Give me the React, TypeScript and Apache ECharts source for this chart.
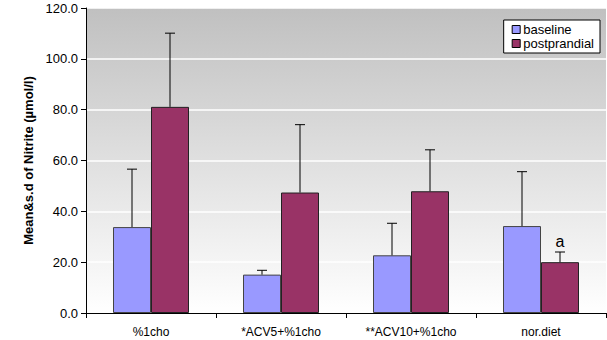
import React, { useEffect, useRef } from "react";
import * as echarts from "echarts";

const categories = ["%1cho", "*ACV5+%1cho", "**ACV10+%1cho", "nor.diet"];
const baseline = [33.8, 15.1, 22.7, 34.2];
const baselineSd = [22.8, 1.7, 12.6, 21.4];
const postprandial = [81.1, 47.4, 47.9, 20.0];
const postprandialSd = [29.0, 26.7, 16.3, 4.0];
const postNotes = ["", "", "", "a"];
const yTicks = [0, 20, 40, 60, 80, 100, 120];

const BAR_W = 38;
const FONT = "Arial, 'Liberation Sans', sans-serif";

function errorSeries(name: string, means: number[], sds: number[], offset: number, notes: string[]) {
  const data = means.map((m, i) => [i, m, m + sds[i], notes[i]]);
  return {
    type: "custom",
    name: name + "-err",
    silent: true,
    z: 5,
    data,
    encode: { x: 0, y: [1, 2] },
    renderItem: (params: any, api: any) => {
      const idx = api.value(0);
      const lo = api.coord([idx, api.value(1)]);
      const hi = api.coord([idx, api.value(2)]);
      const x = lo[0] + offset;
      const children: any[] = [
        { type: "line", shape: { x1: x, y1: lo[1], x2: x, y2: hi[1] }, style: { stroke: "#000", lineWidth: 1 } },
        { type: "line", shape: { x1: x - 5, y1: hi[1], x2: x + 5, y2: hi[1] }, style: { stroke: "#000", lineWidth: 1 } },
      ];
      const note = data[params.dataIndex][3] as string;
      if (note) {
        children.push({
          type: "text",
          style: { text: note, x: x, y: hi[1] - 3, align: "center", verticalAlign: "bottom", fontSize: 16, fontFamily: FONT, fill: "#000" },
        });
      }
      return { type: "group", children };
    },
  };
}

export default function App() {
  const ref = useRef<HTMLDivElement>(null);
  useEffect(() => {
    if (!ref.current) return;
    const chart = echarts.init(ref.current, null, { renderer: "svg" });
    chart.setOption({
      animation: false,
      backgroundColor: "#fff",
      textStyle: { fontFamily: FONT },
      grid: {
        left: 86,
        right: 1,
        top: 8,
        bottom: 27,
        show: true,
        borderWidth: 0,
        backgroundColor: new echarts.graphic.LinearGradient(0, 0, 0, 1, [
          { offset: 0, color: "#c0c0c0" },
          { offset: 1, color: "#ffffff" },
        ]),
      },
      legend: {
        right: 7,
        top: 20,
        orient: "vertical",
        backgroundColor: "#fff",
        borderColor: "#000",
        borderWidth: 1,
        borderRadius: 0,
        padding: [3, 6, 3, 8],
        itemGap: 1,
        itemWidth: 8,
        itemHeight: 8,
        icon: "rect",
        textStyle: { fontSize: 13, color: "#000", fontFamily: FONT, padding: [0, 0, 0, -2] },
        data: [
          { name: "baseline", itemStyle: { borderColor: "#000", borderWidth: 1 } },
          { name: "postprandial", itemStyle: { borderColor: "#000", borderWidth: 1 } },
        ],
      },
      xAxis: {
        type: "category",
        data: categories,
        axisLine: { lineStyle: { color: "#000", width: 1 } },
        axisTick: { show: true, length: 5, lineStyle: { color: "#000" } },
        axisLabel: { color: "#000", fontSize: 12, margin: 13, fontFamily: FONT },
        splitLine: { show: false },
      },
      yAxis: {
        type: "value",
        min: 0,
        max: 120,
        interval: 20,
        name: "Mean&s.d of Nitrite (µmol/l)",
        nameLocation: "middle",
        nameGap: 50,
        nameTextStyle: { fontSize: 13, fontWeight: "bold", color: "#000", fontFamily: FONT },
        axisLine: { show: true, lineStyle: { color: "#000", width: 1 } },
        axisTick: { show: true, length: 5, lineStyle: { color: "#000" } },
        axisLabel: {
          color: "#000",
          fontSize: 13,
          margin: 8,
          fontFamily: FONT,
          formatter: (v: number) => (yTicks.includes(v) ? v.toFixed(1) : ""),
        },
        splitLine: { show: true, lineStyle: { color: "#ffffff", width: 1.5 } },
      },
      series: [
        {
          name: "baseline",
          type: "bar",
          data: baseline,
          barWidth: BAR_W,
          barGap: "0%",
          itemStyle: { color: "#9999ff", borderColor: "#444", borderWidth: 1 },
        },
        {
          name: "postprandial",
          type: "bar",
          data: postprandial,
          barWidth: BAR_W,
          barGap: "0%",
          itemStyle: { color: "#993366", borderColor: "#222", borderWidth: 1 },
        },
        errorSeries("baseline", baseline, baselineSd, -BAR_W / 2, ["", "", "", ""]),
        errorSeries("postprandial", postprandial, postprandialSd, BAR_W / 2, postNotes),
      ],
    });
    return () => chart.dispose();
  }, []);
  return <div ref={ref} style={{ width: 607, height: 340, position: "absolute", left: 0, top: 0 }} />;
}
